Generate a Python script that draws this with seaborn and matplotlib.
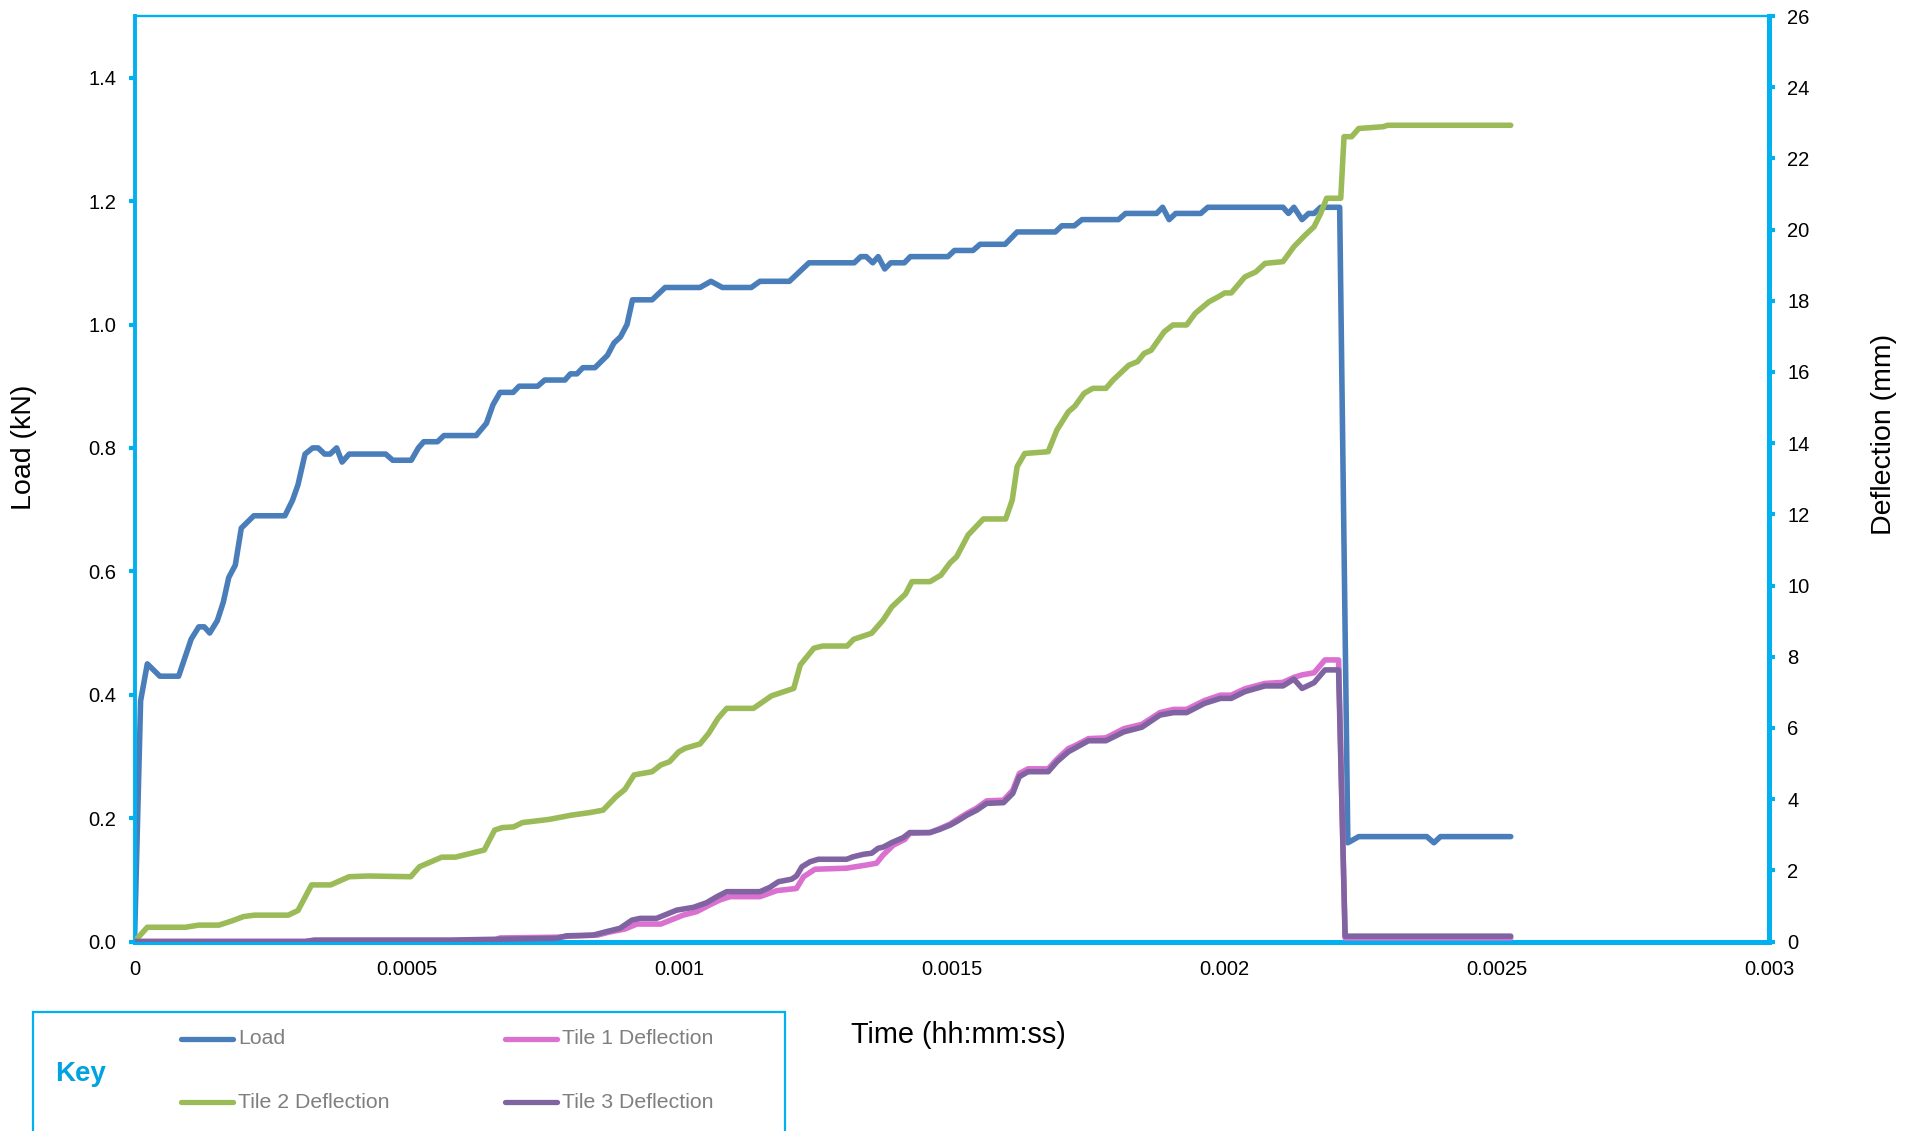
import pandas as pd
import matplotlib
matplotlib.use("Agg")
import matplotlib.pyplot as plt
import seaborn as sns
from matplotlib.lines import Line2D
from matplotlib.patches import Rectangle

# Load (kN) vs time
load_time = [0, 0.0000112, 0.0000235, 0.0000465, 0.000081, 0.000104, 0.000118, 0.000128, 0.000138, 0.000152,
             0.000163, 0.000173, 0.000185, 0.000196, 0.000219, 0.000276, 0.00029, 0.0003, 0.000313, 0.000327,
             0.000337, 0.000349, 0.000359, 0.000371, 0.000381, 0.000394, 0.000461, 0.000474, 0.000508, 0.000521,
             0.000531, 0.000556, 0.000568, 0.000627, 0.000646, 0.000658, 0.000671, 0.000695, 0.000706, 0.00074,
             0.000753, 0.00079, 0.0008, 0.000812, 0.000823, 0.000845, 0.000868, 0.00088, 0.000892, 0.000904,
             0.000914, 0.00095, 0.000974, 0.001038, 0.001058, 0.001079, 0.001132, 0.001148, 0.001202, 0.001238,
             0.001321, 0.001333, 0.001343, 0.001355, 0.001365, 0.001377, 0.001388, 0.001413, 0.001424, 0.001493,
             0.001505, 0.001539, 0.001552, 0.001598, 0.00162, 0.00169, 0.001702, 0.001725, 0.001739, 0.001806,
             0.001819, 0.001876, 0.001887, 0.001899, 0.001911, 0.001957, 0.00197, 0.002108, 0.002118, 0.002128,
             0.002143, 0.002155, 0.002165, 0.002177, 0.002212, 0.002227, 0.002247, 0.002372, 0.002385, 0.002397,
             0.002526]
load_kn = [0, 0.39, 0.45, 0.43, 0.43, 0.49, 0.51, 0.51, 0.50, 0.52,
           0.55, 0.59, 0.61, 0.67, 0.69, 0.69, 0.715, 0.74, 0.79, 0.80,
           0.80, 0.79, 0.79, 0.80, 0.777, 0.79, 0.79, 0.78, 0.78, 0.80,
           0.81, 0.81, 0.82, 0.82, 0.84, 0.87, 0.89, 0.89, 0.90, 0.90,
           0.91, 0.91, 0.92, 0.92, 0.93, 0.93, 0.95, 0.97, 0.98, 1.00,
           1.04, 1.04, 1.06, 1.06, 1.07, 1.06, 1.06, 1.07, 1.07, 1.10,
           1.10, 1.11, 1.11, 1.10, 1.11, 1.09, 1.10, 1.10, 1.11, 1.11,
           1.12, 1.12, 1.13, 1.13, 1.15, 1.15, 1.16, 1.16, 1.17, 1.17,
           1.18, 1.18, 1.19, 1.17, 1.18, 1.18, 1.19, 1.19, 1.18, 1.19,
           1.17, 1.18, 1.18, 1.19, 1.19, 0.16, 0.17, 0.17, 0.16, 0.17,
           0.17]

# Tile 1 deflection (mm)
tile1_time = [0, 0.000655, 0.000671, 0.000775, 0.0008, 0.00085, 0.00087, 0.0009, 0.000922, 0.000966,
              0.001007, 0.001032, 0.001056, 0.001075, 0.001093, 0.001148, 0.001179, 0.001215, 0.001228, 0.001249,
              0.001307, 0.001344, 0.001362, 0.001374, 0.001393, 0.001414, 0.001423, 0.00146, 0.001478, 0.001497,
              0.001509, 0.001528, 0.001546, 0.001564, 0.001595, 0.001612, 0.001624, 0.00164, 0.001677, 0.001693,
              0.001714, 0.001726, 0.001751, 0.001783, 0.001816, 0.001849, 0.001882, 0.001907, 0.001931, 0.001964,
              0.001993, 0.002013, 0.002038, 0.002075, 0.002108, 0.002128, 0.002143, 0.002165, 0.002185, 0.00221,
              0.002222, 0.002526]
tile1_mm = [0, 0, 0.10, 0.12, 0.15, 0.18, 0.26, 0.35, 0.49, 0.49,
            0.74, 0.84, 1.03, 1.17, 1.26, 1.26, 1.43, 1.49, 1.82, 2.03,
            2.06, 2.15, 2.20, 2.43, 2.71, 2.87, 3.04, 3.06, 3.17, 3.30,
            3.42, 3.60, 3.75, 3.95, 3.97, 4.25, 4.72, 4.85, 4.85, 5.12,
            5.42, 5.50, 5.70, 5.72, 5.98, 6.10, 6.43, 6.52, 6.52, 6.77,
            6.92, 6.92, 7.10, 7.25, 7.28, 7.42, 7.49, 7.55, 7.91, 7.91,
            0.10, 0.10]

# Tile 2 deflection (mm)
tile2_time = [0, 0.0000235, 0.0000932, 0.000118, 0.000155, 0.000179, 0.0002, 0.00022, 0.000282, 0.0003,
              0.000325, 0.00036, 0.000394, 0.000429, 0.000507, 0.000523, 0.000564, 0.000589, 0.000642, 0.000661,
              0.000675, 0.000696, 0.000712, 0.000761, 0.000802, 0.000835, 0.00086, 0.000884, 0.0009, 0.000917,
              0.00095, 0.000966, 0.000982, 0.000999, 0.001011, 0.001038, 0.001054, 0.001071, 0.001087, 0.001136,
              0.001169, 0.001198, 0.00121, 0.001222, 0.001247, 0.001263, 0.001308, 0.00132, 0.001353, 0.001374,
              0.00139, 0.001415, 0.001427, 0.00146, 0.00148, 0.001497, 0.001509, 0.00153, 0.001558, 0.001599,
              0.001611, 0.00162, 0.001634, 0.001677, 0.001693, 0.001714, 0.001726, 0.001743, 0.001759, 0.001783,
              0.001796, 0.001825, 0.001841, 0.001853, 0.001866, 0.00189, 0.001906, 0.001931, 0.001947, 0.001972,
              0.001989, 0.002001, 0.002013, 0.002038, 0.002058, 0.002075, 0.002108, 0.002128, 0.002149, 0.002165,
              0.002177, 0.002188, 0.002214, 0.00222, 0.002234, 0.002247, 0.002292, 0.0023, 0.002526]
tile2_mm = [0, 0.40, 0.40, 0.46, 0.46, 0.58, 0.70, 0.74, 0.74, 0.87,
            1.59, 1.59, 1.82, 1.84, 1.82, 2.10, 2.37, 2.37, 2.57, 3.13,
            3.20, 3.22, 3.34, 3.43, 3.55, 3.62, 3.69, 4.07, 4.27, 4.68,
            4.77, 4.96, 5.05, 5.33, 5.43, 5.55, 5.85, 6.27, 6.55, 6.55,
            6.90, 7.05, 7.11, 7.77, 8.24, 8.30, 8.30, 8.49, 8.66, 9.03,
            9.40, 9.76, 10.11, 10.11, 10.29, 10.64, 10.81, 11.42, 11.87, 11.87,
            12.40, 13.34, 13.71, 13.76, 14.37, 14.88, 15.04, 15.40, 15.54, 15.54,
            15.77, 16.19, 16.29, 16.52, 16.61, 17.13, 17.32, 17.32, 17.65, 17.97,
            18.11, 18.22, 18.22, 18.67, 18.81, 19.05, 19.10, 19.52, 19.85, 20.08,
            20.45, 20.88, 20.88, 22.61, 22.61, 22.84, 22.89, 22.93, 22.93]

# Tile 3 deflection (mm)
tile3_time = [0, 0.000313, 0.00033, 0.000579, 0.000653, 0.000775, 0.000793, 0.000842, 0.000867, 0.000891,
              0.000913, 0.000928, 0.000958, 0.000995, 0.001026, 0.00105, 0.001069, 0.001087, 0.001148, 0.001166,
              0.001182, 0.001206, 0.001215, 0.001225, 0.00124, 0.001255, 0.001307, 0.001319, 0.001338, 0.001353,
              0.001365, 0.001374, 0.00139, 0.001411, 0.001423, 0.00146, 0.001478, 0.001497, 0.001509, 0.001528,
              0.001546, 0.001564, 0.001595, 0.001612, 0.001624, 0.00164, 0.001677, 0.001693, 0.001714, 0.001726,
              0.001751, 0.001783, 0.001816, 0.001849, 0.001882, 0.001907, 0.001931, 0.001964, 0.001993, 0.002013,
              0.002038, 0.002075, 0.002108, 0.002128, 0.002143, 0.002165, 0.002185, 0.00221, 0.002222, 0.002526]
tile3_mm = [0, 0, 0.04, 0.04, 0.06, 0.09, 0.16, 0.18, 0.28, 0.37,
            0.60, 0.65, 0.65, 0.88, 0.96, 1.09, 1.26, 1.40, 1.40, 1.52,
            1.68, 1.75, 1.84, 2.10, 2.24, 2.31, 2.31, 2.38, 2.45, 2.48,
            2.62, 2.65, 2.78, 2.92, 3.06, 3.06, 3.15, 3.27, 3.37, 3.55,
            3.69, 3.88, 3.90, 4.16, 4.63, 4.77, 4.77, 5.05, 5.33, 5.43,
            5.64, 5.64, 5.89, 6.02, 6.36, 6.43, 6.43, 6.69, 6.83, 6.83,
            7.02, 7.18, 7.18, 7.37, 7.11, 7.27, 7.63, 7.63, 0.15, 0.15]

x_ticks = [0, 0.0005, 0.001, 0.0015, 0.002, 0.0025, 0.003]
x_tick_labels = ["0", "0.0005", "0.001", "0.0015", "0.002", "0.0025", "0.003"]
load_ticks = [0.0, 0.2, 0.4, 0.6, 0.8, 1.0, 1.2, 1.4]
defl_ticks = list(range(0, 27, 2))

series_names = ["Load", "Tile 1 Deflection", "Tile 2 Deflection", "Tile 3 Deflection"]
series_colors = ["#4A7EBB", "#DA70D0", "#9BBB59", "#8064A2"]

AXIS_BLUE = "#00B0F0"

sns.set_style("white")
plt.rcParams["font.family"] = ["Liberation Sans", "DejaVu Sans"]

fig = plt.figure(figsize=(19.17, 11.31), dpi=100)
ax = fig.add_axes([134.5 / 1917, 1 - 941.5 / 1131, (1769 - 134.5) / 1917, (941.5 - 16) / 1131])
ax2 = ax.twinx()

load_df = pd.DataFrame({"time": load_time, "value": load_kn})
sns.lineplot(data=load_df, x="time", y="value", ax=ax, color=series_colors[0],
             linewidth=4.0, estimator=None, sort=False)

tile_data = [(tile1_time, tile1_mm, series_colors[1]),
             (tile2_time, tile2_mm, series_colors[2]),
             (tile3_time, tile3_mm, series_colors[3])]
for t, v, c in tile_data:
    df = pd.DataFrame({"time": t, "value": v})
    sns.lineplot(data=df, x="time", y="value", ax=ax2, color=c,
                 linewidth=4.0, estimator=None, sort=False)

# axes limits / ticks
ax.set_xlim(0, 0.003)
ax.set_ylim(0, 1.5)
ax2.set_ylim(0, 26)
ax.set_xticks(x_ticks)
ax.set_xticklabels(x_tick_labels)
ax.set_yticks(load_ticks)
ax.set_yticklabels([f"{v:.1f}" for v in load_ticks])
ax2.set_yticks(defl_ticks)
ax2.set_yticklabels([str(v) for v in defl_ticks])
ax.set_xlabel("")
ax.set_ylabel("")
ax2.set_ylabel("")

for a in (ax, ax2):
    a.tick_params(axis="both", which="both", direction="out", length=4, width=3,
                  color=AXIS_BLUE, labelsize=14.5, labelcolor="black", pad=9)
    for s in a.spines.values():
        s.set_color(AXIS_BLUE)

ax.spines["left"].set_linewidth(2.8)
ax.spines["bottom"].set_linewidth(3.6)
ax.spines["top"].set_linewidth(1.7)
ax.spines["right"].set_visible(False)
ax2.spines["left"].set_visible(False)
ax2.spines["bottom"].set_visible(False)
ax2.spines["top"].set_visible(False)
ax2.spines["right"].set_linewidth(3.6)
ax2.spines["right"].set_zorder(5)
ax.spines["bottom"].set_zorder(1)

# axis titles
fig.text(24 / 1917, 1 - 447 / 1131, "Load (kN)", rotation=90, ha="center", va="center",
         fontsize=20.5, color="black")
fig.text(1884 / 1917, 1 - 434 / 1131, "Deflection (mm)", rotation=90, ha="center", va="center",
         fontsize=20.5, color="black")
fig.text(958 / 1917, 1 - 1035 / 1131, "Time (hh:mm:ss)", ha="center", va="center",
         fontsize=20.8, color="black")

# key box
fig.patches.append(Rectangle((33 / 1917, -0.05), (785 - 33) / 1917, 1 - 1012 / 1131 + 0.05,
                             transform=fig.transFigure, fill=False, edgecolor=AXIS_BLUE,
                             linewidth=1.6, zorder=3))
fig.text(55 / 1917, 1 - 1074 / 1131, "Key", ha="left", va="center", fontsize=20,
         fontweight="bold", color="#00A3E0")

legend_slots = [(181, 1039), (505, 1039), (181, 1102), (505, 1102)]
for name, color, (lx, ly) in zip(series_names, series_colors, legend_slots):
    yf = 1 - ly / 1131
    fig.lines.append(Line2D([lx / 1917, (lx + 52) / 1917], [yf, yf], transform=fig.transFigure,
                            color=color, linewidth=3.8, solid_capstyle="round"))
    fig.text((lx + 57) / 1917, yf, name, ha="left", va="center", fontsize=15.3, color="#7F7F7F")

fig.savefig("out.png", dpi=100)
